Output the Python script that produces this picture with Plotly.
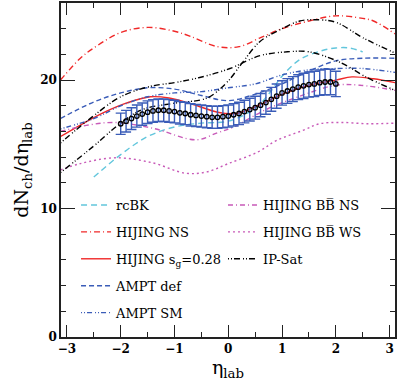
import plotly.graph_objects as go

# measured band (eta_lab, dN/deta, error)
data_x = [-2.0, -1.9, -1.8, -1.7, -1.6, -1.5, -1.4, -1.3, -1.2, -1.1, -1.0,
          -0.9, -0.8, -0.7, -0.6, -0.5, -0.4, -0.3, -0.2, -0.1, 0.0,
          0.1, 0.2, 0.3, 0.4, 0.5, 0.6, 0.7, 0.8, 0.9, 1.0,
          1.1, 1.2, 1.3, 1.4, 1.5, 1.6, 1.7, 1.8, 1.9, 2.0]
data_y = [16.6, 16.8, 17.0, 17.2, 17.35, 17.5, 17.6, 17.65, 17.65, 17.6, 17.55,
          17.45, 17.4, 17.3, 17.25, 17.2, 17.15, 17.1, 17.1, 17.15, 17.2,
          17.3, 17.4, 17.55, 17.7, 17.85, 18.05, 18.25, 18.5, 18.75, 19.0,
          19.15, 19.3, 19.45, 19.55, 19.65, 19.7, 19.8, 19.85, 19.85, 19.7]
data_err = [0.83, 0.84, 0.85, 0.86, 0.87, 0.88, 0.88, 0.88, 0.88, 0.88, 0.88,
            0.87, 0.87, 0.87, 0.86, 0.86, 0.86, 0.86, 0.86, 0.86, 0.86,
            0.87, 0.87, 0.88, 0.89, 0.89, 0.9, 0.91, 0.93, 0.94, 0.95,
            0.96, 0.97, 0.97, 0.98, 0.98, 0.99, 0.99, 0.99, 0.99, 0.99]

rcbk_x = [-2.5, -2.0, -1.5, -1.0, -0.5, 0.0, 0.5, 0.75, 1.0, 1.33, 1.75, 2.0, 2.25, 2.5]
rcbk_y = [12.45, 14.2, 15.6, 16.35, 16.65, 16.8, 17.8, 18.9, 20.3, 21.6, 22.3, 22.5, 22.5, 22.2]

hns_x = [-3.12, -2.75, -2.5, -2.0, -1.5, -1.0, -0.7, -0.2, 0.2, 0.6, 1.0, 1.5, 2.0, 2.5, 2.7, 3.1]
hns_y = [20.0, 21.7, 22.5, 23.7, 24.1, 23.8, 23.4, 22.6, 22.6, 23.3, 24.0, 24.6, 25.0, 24.8, 24.6, 23.6]

hsg_x = [-3.12, -2.75, -2.3, -1.9, -1.45, -1.1, -0.65, -0.2, 0.15, 0.6, 1.0, 1.5, 2.0, 2.3, 2.7, 3.1]
hsg_y = [15.6, 16.5, 17.5, 18.2, 18.7, 18.6, 18.1, 17.5, 17.4, 18.1, 18.9, 19.6, 20.0, 20.25, 20.1, 19.8]

adef_x = [-3.12, -2.5, -2.0, -1.5, -1.0, -0.5, 0.0, 0.5, 1.0, 1.5, 2.0, 2.5, 3.1]
adef_y = [17.0, 18.3, 19.0, 19.4, 19.3, 18.8, 18.4, 18.9, 19.7, 20.7, 21.5, 21.7, 21.7]

asm_x = [-3.12, -2.5, -2.0, -1.5, -1.0, -0.5, 0.0, 0.5, 1.0, 1.5, 2.0, 2.5, 3.1]
asm_y = [16.2, 17.0, 18.0, 18.7, 19.0, 19.1, 19.4, 19.7, 20.4, 20.8, 20.9, 20.9, 20.6]

bbns_x = [-3.12, -2.6, -2.1, -1.4, -0.6, -0.2, 0.1, 0.7, 1.3, 2.0, 2.45, 3.1]
bbns_y = [16.0, 16.5, 16.7, 16.25, 15.35, 15.9, 16.35, 17.7, 18.7, 19.6, 19.6, 19.2]

bbws_x = [-3.12, -2.75, -2.1, -1.4, -0.8, -0.4, 0.0, 0.55, 0.9, 1.4, 1.7, 2.1, 2.6, 3.1]
bbws_y = [13.0, 13.5, 13.95, 13.55, 12.75, 12.85, 13.5, 14.4, 15.3, 16.1, 16.6, 16.7, 16.6, 16.65]

ips1_x = [-3.12, -2.57, -2.0, -1.46, -1.0, -0.53, 0.03, 0.59, 1.1, 1.5, 2.07, 2.58, 3.1]
ips1_y = [15.1, 17.0, 18.7, 19.5, 19.8, 20.2, 20.9, 21.9, 22.2, 22.2, 21.4, 20.2, 19.2]

ips2_x = [-3.12, -2.52, -2.0, -1.6, -1.0, -0.4, -0.03, 0.27, 0.59, 1.0, 1.33, 1.6, 2.0, 2.5, 3.1]
ips2_y = [12.8, 14.8, 16.65, 17.7, 18.2, 18.6, 19.8, 21.4, 23.0, 24.0, 24.6, 24.7, 24.5, 23.3, 22.1]

x_ticks = [-3, -2, -1, 0, 1, 2, 3]
x_labels = ["\u22123", "\u22122", "\u22121", "0", "1", "2", "3"]
y_ticks = [0, 10, 20]

RED = "#f02828"
CYAN = "#62c6dc"
BLUE = "#3a5cb8"
MAG = "#c85ab8"
FONT = "DejaVu Serif"

fig = go.Figure()

def curve(x, y, color, dash, name, legend, show=True, group=None):
    fig.add_trace(go.Scatter(
        x=x, y=y, mode="lines", name=name, legend=legend,
        line=dict(color=color, width=1.4, dash=dash, shape="spline", smoothing=1.0),
        showlegend=show, legendgroup=group or name,
    ))

curve(rcbk_x, rcbk_y, CYAN, "6px,4px", "rcBK", "legend")
curve(hns_x, hns_y, RED, "6px,3px,1px,3px", "HIJING NS", "legend")
curve(hsg_x, hsg_y, RED, "solid", "HIJING s<sub>g</sub>=0.28", "legend")
curve(adef_x, adef_y, BLUE, "5px,3px", "AMPT def", "legend")
curve(asm_x, asm_y, BLUE, "1px,2px,1px,2px,5px,3px", "AMPT SM", "legend")
curve(bbns_x, bbns_y, MAG, "5px,3px,1px,3px", "HIJING BB\u0305 NS", "legend2")
curve(bbws_x, bbws_y, MAG, "2px,3px", "HIJING BB\u0305 WS", "legend2")
curve(ips1_x, ips1_y, "black", "1px,2px,1px,2px,6px,3px", "IP-Sat", "legend2", group="ips")
curve(ips2_x, ips2_y, "black", "1px,2px,1px,2px,6px,3px", "IP-Sat", "legend2", show=False, group="ips")

fig.add_trace(go.Scatter(
    x=data_x, y=data_y, mode="markers", showlegend=False,
    marker=dict(symbol="circle-open", size=4.5, color="black", line=dict(width=1.3, color="black")),
    error_y=dict(type="data", array=data_err, color=BLUE, thickness=1.4, width=5),
))

# invisible trace so the mirrored top/right axes get drawn (they carry the minor ticks)
fig.add_trace(go.Scatter(x=[None], y=[None], xaxis="x2", yaxis="y2", showlegend=False, hoverinfo="skip"))

LINE = "#222"
common = dict(
    showgrid=False, zeroline=False, automargin=False,
    ticks="inside", tickcolor=LINE, tickwidth=1.3,
    tickfont=dict(family=FONT, size=12, color="black", weight="bold"),
)
minor_x = dict(dtick=0.5, ticks="inside", ticklen=5, tickcolor=LINE, tickwidth=1.2)
minor_y = dict(dtick=2, ticks="inside", ticklen=5, tickcolor=LINE, tickwidth=1.2)

fig.update_layout(
    width=399, height=384,
    margin=dict(l=61, r=4, t=3, b=47),
    plot_bgcolor="white", paper_bgcolor="white",
    xaxis=dict(
        range=[-3.11, 3.1], tickvals=x_ticks, ticktext=x_labels, ticklen=12,
        showline=True, linecolor=LINE, linewidth=1.5, minor=minor_x,
        title=dict(text="\u03b7<sub>lab</sub>", font=dict(family=FONT, size=19, color="black"), standoff=2),
        **common,
    ),
    yaxis=dict(
        range=[0, 26], tickvals=y_ticks, ticklen=14,
        showline=True, linecolor=LINE, linewidth=1.5, minor=minor_y,
        title=dict(text="dN<sub>ch</sub>/d\u03b7<sub>lab</sub>", font=dict(family=FONT, size=19, color="black"), standoff=6),
        **common,
    ),
    xaxis2=dict(
        range=[-3.11, 3.1], tickvals=x_ticks, ticklen=12, overlaying="x", side="top",
        showticklabels=False, showline=True, linecolor=LINE, linewidth=1.5, minor=minor_x,
        **common,
    ),
    yaxis2=dict(
        range=[0, 26], tickvals=y_ticks, ticklen=14, overlaying="y", side="right",
        showticklabels=False, showline=True, linecolor=LINE, linewidth=1.5, minor=minor_y,
        **common,
    ),
)

legend_common = dict(
    bgcolor="rgba(0,0,0,0)", tracegroupgap=7, itemwidth=30,
    font=dict(family=FONT, size=13, color="black"),
    xanchor="left", yanchor="top", traceorder="grouped",
)
fig.update_layout(
    legend=dict(x=0.045, y=0.44, **legend_common),
    legend2=dict(x=0.485, y=0.44, **legend_common),
)

fig.write_html(
    "out.html",
    config={"displayModeBar": False},
    post_script="document.body.style.margin='0';document.body.style.overflow='hidden';",
)
